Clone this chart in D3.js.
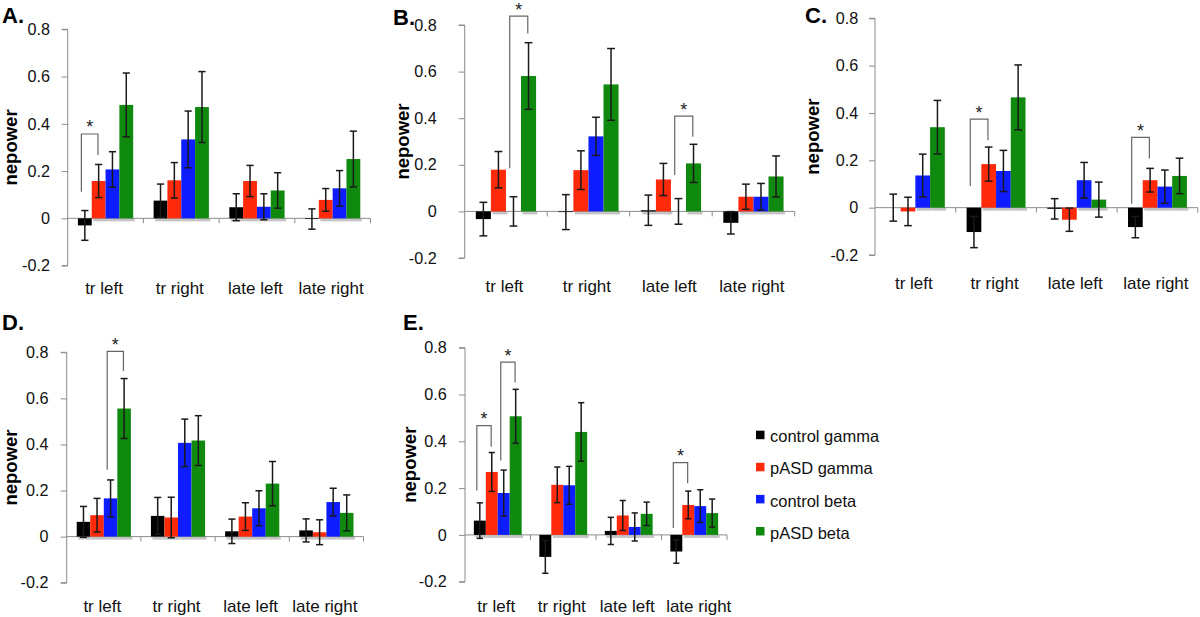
<!DOCTYPE html>
<html><head><meta charset="utf-8">
<script src="https://cdn.jsdelivr.net/npm/d3@7"></script>
<style>body{margin:0;background:#fff}svg{display:block}</style>
</head><body>
<svg id="chart" width="1200" height="617"></svg>
<script>
// ---------- data ----------
const categories = ["tr left", "tr right", "late left", "late right"];
const seriesNames = ["control gamma", "pASD gamma", "control beta", "pASD beta"];
const seriesColors = ["#000000", "#ff2a0a", "#0d1dff", "#0f8a0f"];
const yTicks = [-0.2, 0, 0.2, 0.4, 0.6, 0.8];
const yTickLabels = ["-0.2", "0", "0.2", "0.4", "0.6", "0.8"];
const panelLetters = ["A.", "B.", "C.", "D.", "E."];
const yTitle = "nepower";

// means[category][series]
const meansA = [[-0.03, 0.158, 0.207, 0.48], [0.075, 0.161, 0.334, 0.471], [0.047, 0.158, 0.049, 0.118], [-0.003, 0.078, 0.127, 0.251]];
const errsA  = [[0.063, 0.07, 0.075, 0.135], [0.07, 0.075, 0.12, 0.15], [0.057, 0.066, 0.055, 0.075], [0.043, 0.048, 0.075, 0.118]];
const meansB = [[-0.033, 0.179, 0.0, 0.581], [-0.003, 0.177, 0.322, 0.545], [0.005, 0.137, 0.0, 0.206], [-0.049, 0.063, 0.063, 0.15]];
const errsB  = [[0.072, 0.078, 0.063, 0.143], [0.075, 0.083, 0.082, 0.154], [0.065, 0.069, 0.055, 0.082], [0.048, 0.054, 0.057, 0.088]];
const meansC = [[0.0, -0.016, 0.136, 0.34], [-0.103, 0.184, 0.155, 0.466], [-0.005, -0.051, 0.116, 0.034], [-0.082, 0.116, 0.089, 0.134]];
const errsC  = [[0.057, 0.06, 0.09, 0.113], [0.066, 0.072, 0.087, 0.137], [0.043, 0.049, 0.075, 0.074], [0.045, 0.05, 0.07, 0.075]];
const meansD = [[0.064, 0.093, 0.166, 0.556], [0.09, 0.083, 0.407, 0.417], [0.023, 0.087, 0.123, 0.23], [0.027, 0.019, 0.15, 0.103]];
const errsD  = [[0.067, 0.073, 0.08, 0.13], [0.08, 0.088, 0.103, 0.108], [0.053, 0.06, 0.076, 0.096], [0.05, 0.054, 0.06, 0.078]];
const meansE = [[0.061, 0.269, 0.179, 0.507], [-0.094, 0.214, 0.212, 0.44], [0.017, 0.083, 0.034, 0.09], [-0.071, 0.128, 0.123, 0.093]];
const errsE  = [[0.076, 0.083, 0.098, 0.115], [0.07, 0.076, 0.081, 0.125], [0.058, 0.064, 0.06, 0.05], [0.05, 0.059, 0.07, 0.06]];

// significance brackets: [category, fromSeries, toSeries, leftLegBottom, rightLegBottom, top]
const bracketsA = [["tr left", 0, 1, 0.113, 0.268, 0.357]];
const bracketsB = [["tr left", 2, 3, 0.185, 0.764, 0.838], ["late left", 2, 3, 0.156, 0.32, 0.409]];
const bracketsC = [["tr right", 0, 1, 0.092, 0.285, 0.374], ["late right", 0, 1, 0.017, 0.208, 0.297]];
const bracketsD = [["tr left", 2, 3, 0.29, 0.719, 0.804]];
const bracketsE = [["tr left", 0, 1, 0.19, 0.377, 0.467], ["tr left", 2, 3, 0.318, 0.651, 0.738], ["late right", 0, 1, 0.029, 0.221, 0.309]];

// ---------- layout ----------
const panels = [
  {letter: panelLetters[0], means: meansA, errs: errsA, br: bracketsA, x0: 67.7, x1: 370.5, yTop: 29.3, yBot: 265.6, lx: 2, ly: 23.3, tgap: 17.7, tOff: 57.5, catY: 288},
  {letter: panelLetters[1], means: meansB, errs: errsB, br: bracketsB, x0: 464.7, x1: 794.7, yTop: 25, yBot: 258, lx: 393, ly: 25, tgap: 28, tOff: 62.5, catY: 286.7},
  {letter: panelLetters[2], means: meansC, errs: errsC, br: bracketsC, x0: 875, x1: 1197.8, yTop: 18.3, yBot: 255, lx: 805, ly: 22.7, tgap: 16.7, tOff: 63, catY: 283.3},
  {letter: panelLetters[3], means: meansD, errs: errsD, br: bracketsD, x0: 66.7, x1: 363.5, yTop: 352.3, yBot: 582.7, lx: 2, ly: 330, tgap: 18.3, tOff: 56.5, catY: 606.7},
  {letter: panelLetters[4], means: meansE, errs: errsE, br: bracketsE, x0: 465, x1: 727, yTop: 347.7, yBot: 581.7, lx: 403, ly: 330, tgap: 18.3, tOff: 56, catY: 606.7}
];

const FONT = "'Liberation Sans', Arial, sans-serif";
const svg = d3.select("#chart");
const axisColor = "#8c8c8c";

panels.forEach(p => {
  const g = svg.append("g");
  const y = d3.scaleLinear().domain([-0.2, 0.8]).range([p.yBot, p.yTop]);
  const x = d3.scaleBand().domain(categories).range([p.x0, p.x1]).paddingInner(0).paddingOuter(0);
  const cw = x.bandwidth();
  const xs = d3.scaleBand().domain(d3.range(4)).range([0.135 * cw, 0.865 * cw]);
  const bw = xs.bandwidth();
  const y0 = y(0);

  // panel letter
  g.append("text").attr("x", p.lx).attr("y", p.ly).text(p.letter)
    .attr("font-family", FONT).attr("font-weight", "bold").attr("font-size", 22).attr("fill", "#000");

  // y axis
  const yAxis = d3.axisLeft(y).tickValues(yTicks).tickFormat((d, i) => yTickLabels[i]).tickSize(6).tickPadding(p.tgap - 6);
  const ya = g.append("g").attr("transform", `translate(${p.x0},0)`).call(yAxis);
  ya.select(".domain").attr("stroke", axisColor).attr("d", `M-6,${p.yTop}H0V${p.yBot}H-6`);
  ya.selectAll(".tick line").attr("stroke", axisColor);
  ya.selectAll(".tick text").attr("font-family", FONT).attr("font-size", 16.2).attr("fill", "#111");

  // y title
  g.append("text").text(yTitle)
    .attr("transform", `translate(${p.x0 - p.tOff},${(p.yTop + p.yBot) / 2}) rotate(-90)`)
    .attr("text-anchor", "middle").attr("dominant-baseline", "central")
    .attr("font-family", FONT).attr("font-weight", "bold").attr("font-size", 18.5).attr("fill", "#000");

  // shadows under positive bars
  categories.forEach((c, ci) => {
    p.means[ci].forEach((v, si) => {
      if (v > 0.004) {
        g.append("rect").attr("x", x(c) + xs(si) + 1.5).attr("y", y0 + 0.5).attr("width", bw).attr("height", 2.5)
          .attr("fill", "#c4c4c4");
      }
    });
  });

  // x axis at zero
  const xAxis = d3.axisBottom(x).tickSize(0).tickFormat("");
  const xa = g.append("g").attr("transform", `translate(0,${y0})`).call(xAxis);
  xa.select(".domain").attr("stroke", axisColor).attr("d", `M${p.x0},0H${p.x1}`);
  // category boundary ticks
  const bounds = categories.slice(1).map(c => x(c)).concat([p.x1]);
  g.selectAll(null).data(bounds).enter().append("line")
    .attr("x1", d => d).attr("x2", d => d).attr("y1", y0).attr("y2", y0 + 5)
    .attr("stroke", axisColor).attr("stroke-width", 1);

  // bars
  categories.forEach((c, ci) => {
    p.means[ci].forEach((v, si) => {
      g.append("rect").attr("x", x(c) + xs(si)).attr("width", bw)
        .attr("y", Math.min(y(v), y0)).attr("height", Math.abs(y(v) - y0))
        .attr("fill", seriesColors[si]);
    });
  });

  // error bars
  categories.forEach((c, ci) => {
    p.means[ci].forEach((v, si) => {
      const e = p.errs[ci][si];
      const cx = x(c) + xs(si) + bw / 2;
      const cap = bw * 0.26;
      const eg = g.append("g").attr("stroke", "#1a1a1a").attr("stroke-width", 1.5).attr("fill", "none");
      eg.append("line").attr("x1", cx).attr("x2", cx).attr("y1", y(v + e)).attr("y2", y(v - e));
      eg.append("line").attr("x1", cx - cap).attr("x2", cx + cap).attr("y1", y(v + e)).attr("y2", y(v + e));
      eg.append("line").attr("x1", cx - cap).attr("x2", cx + cap).attr("y1", y(v - e)).attr("y2", y(v - e));
    });
  });

  // significance brackets
  p.br.forEach(b => {
    const [c, fs, ts, lb, rb, top] = b;
    const lxp = x(c) + xs(fs) + bw * 0.25;
    const rxp = x(c) + xs(ts) + bw * 0.45;
    g.append("path").attr("d", `M${lxp},${y(lb)}V${y(top)}H${rxp}V${y(rb)}`)
      .attr("fill", "none").attr("stroke", "#666").attr("stroke-width", 1.2);
    g.append("text").attr("x", (lxp + rxp) / 2).attr("y", y(top) - 0.5).text("*")
      .attr("text-anchor", "middle").attr("font-family", FONT).attr("font-size", 18).attr("fill", "#222");
  });

  // category labels
  g.selectAll(null).data(categories).enter().append("text")
    .attr("x", (d, i) => x(d) + cw / 2 - 1.5 + (p.letter === "E." && i === 3 ? 6 : 0)).attr("y", p.catY).text(d => d)
    .attr("text-anchor", "middle").attr("dominant-baseline", "central")
    .attr("font-family", FONT).attr("font-size", 17).attr("fill", "#111");
});

// legend
const legY = d3.scalePoint().domain(seriesNames).range([435, 531.3]);
const leg = svg.append("g");
seriesNames.forEach((s, i) => {
  leg.append("rect").attr("x", 756).attr("y", legY(s) - 4.3).attr("width", 8.5).attr("height", 8.5).attr("fill", seriesColors[i]);
  leg.append("text").attr("x", 770).attr("y", legY(s) + 7.3).text(s)
    .attr("font-family", FONT).attr("font-size", 16.5).attr("fill", "#111");
});
</script>
</body></html>
